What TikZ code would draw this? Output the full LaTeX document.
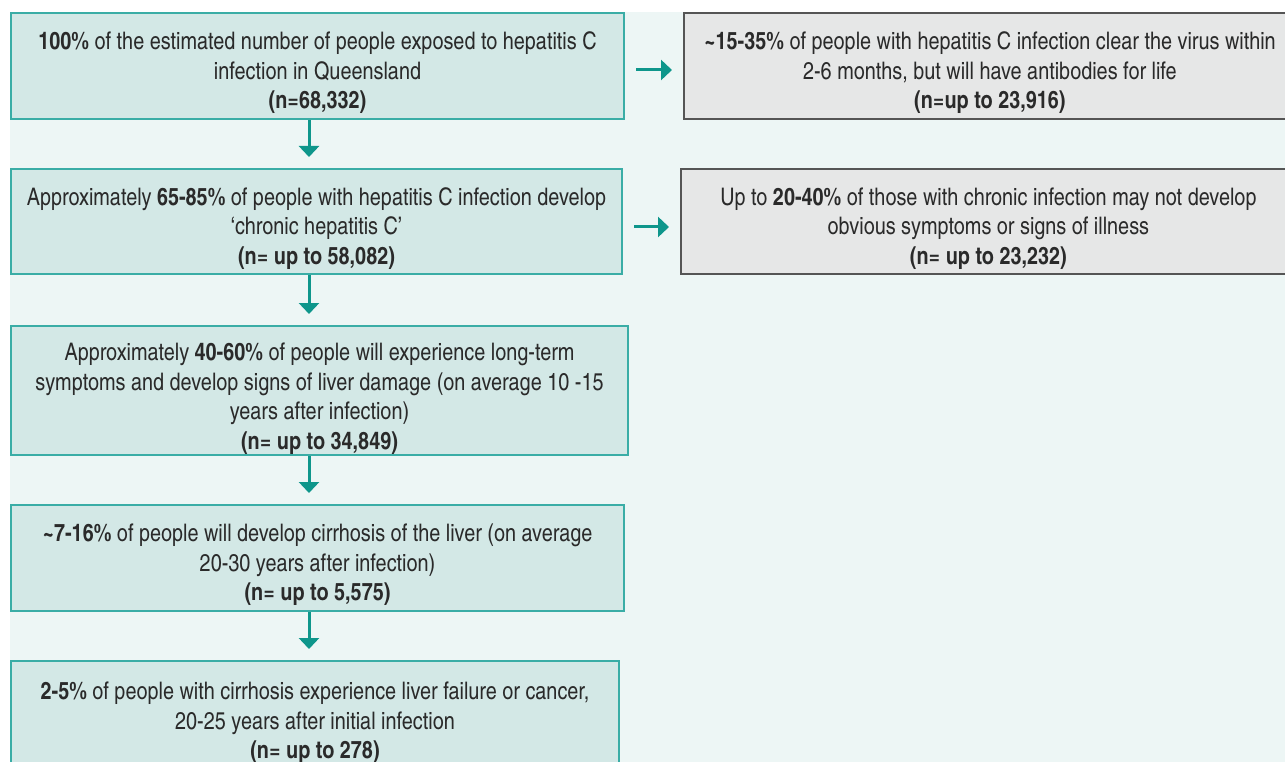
\documentclass[tikz,border=0pt]{standalone}
\usepackage{fontspec}
\setmainfont{texgyreheroscn}[Extension=.otf, UprightFont=*-regular, BoldFont=*-bold, ItalicFont=*-italic, BoldItalicFont=*-bolditalic]
\usetikzlibrary{arrows.meta}
\definecolor{bgmint}{HTML}{EDF6F5}
\definecolor{tealfill}{HTML}{D3E8E6}
\definecolor{tealline}{HTML}{3AADA6}
\definecolor{arrteal}{HTML}{0E968B}
\definecolor{grayfill}{HTML}{E6E7E7}
\definecolor{grayline}{HTML}{555555}
\definecolor{txtcol}{HTML}{2A2A2A}
\tikzset{
  tealbox/.style={draw=tealline, fill=tealfill, line width=2pt, rectangle, inner sep=0pt, anchor=north west},
  graybox/.style={draw=grayline, fill=grayfill, line width=1.8pt, rectangle, inner sep=0pt, anchor=north west},
  txt/.style={align=center, text=txtcol, inner sep=0pt, font=\fontsize{24.2}{29.5}\selectfont},
  arr/.style={draw=arrteal, line width=3pt, -{Triangle[length=11pt,width=20pt]}, shorten >=11pt}
}
\begin{document}
\begin{tikzpicture}[x=1pt,y=-1pt]
\useasboundingbox (0,0) rectangle (1285,762);
\begin{scope}
\clip (0,0) rectangle (1285,762);
\fill[bgmint] (10,12) rectangle (1290,770);
\node[tealbox, minimum width=613pt, minimum height=106pt] (b1) at (10,12) {};
\node[graybox, minimum width=612pt, minimum height=106pt] (r1) at (683,12) {};
\node[tealbox, minimum width=611pt, minimum height=105pt] (b2) at (10,168) {};
\node[graybox, minimum width=615pt, minimum height=105pt] (r2) at (680,168) {};
\node[tealbox, minimum width=617pt, minimum height=129pt] (b3) at (10,325) {};
\node[tealbox, minimum width=613pt, minimum height=106pt] (b4) at (10,504) {};
\node[tealbox, minimum width=608pt, minimum height=115pt] (b5) at (10,660) {};

\node[txt] (t1) at ([yshift=-7pt]b1.center) {\textbf{100\%} of the estimated number of people exposed to hepatitis C\\ infection in Queensland\\ \textbf{(n=68,332)}};
\node[txt] (tr1) at ([yshift=-7pt]r1.center) {\textbf{\textasciitilde 15-35\%} of people with hepatitis C infection clear the virus within\\ 2-6 months, but will have antibodies for life\\ \textbf{(n=up to 23,916)}};
\node[txt] (t2) at ([yshift=-7pt]b2.center) {Approximately \textbf{65-85\%} of people with hepatitis C infection develop\\ ‘chronic hepatitis C’\\ \textbf{(n= up to 58,082)}};
\node[txt] (tr2) at ([yshift=-7pt]r2.center) {Up to \textbf{20-40\%} of those with chronic infection may not develop\\ obvious symptoms or signs of illness\\ \textbf{(n= up to 23,232)}};
\node[txt] (t3) at ([yshift=-8pt]b3.center) {Approximately \textbf{40-60\%} of people will experience long-term\\ symptoms and develop signs of liver damage (on average 10 -15\\ years after infection)\\ \textbf{(n= up to 34,849)}};
\node[txt] (t4) at ([yshift=-7pt]b4.center) {\textbf{\textasciitilde 7-16\%} of people will develop cirrhosis of the liver (on average\\ 20-30 years after infection)\\ \textbf{(n= up to 5,575)}};
\node[txt, anchor=north] (t5) at ([yshift=-22pt]b5.north) {\textbf{2-5\%} of people with cirrhosis experience liver failure or cancer,\\ 20-25 years after initial infection\\ \textbf{(n= up to 278)}};
\end{scope}

\coordinate (ax) at (309,0);
\draw[arr] (b1.south -| ax) -- (b2.north -| ax);
\draw[arr] (b2.south -| ax) -- (b3.north -| ax);
\draw[arr] (b3.south -| ax) -- (b4.north -| ax);
\draw[arr] (b4.south -| ax) -- (b5.north -| ax);
\draw[arr, shorten <=11pt] ([yshift=-4pt]b1.east) -- ([yshift=-4pt]b1.east -| r1.west);
\draw[arr, shorten <=11pt] ([yshift=-5.5pt]b2.east) -- ([yshift=-5.5pt]b2.east -| r2.west);
\end{tikzpicture}
\end{document}
